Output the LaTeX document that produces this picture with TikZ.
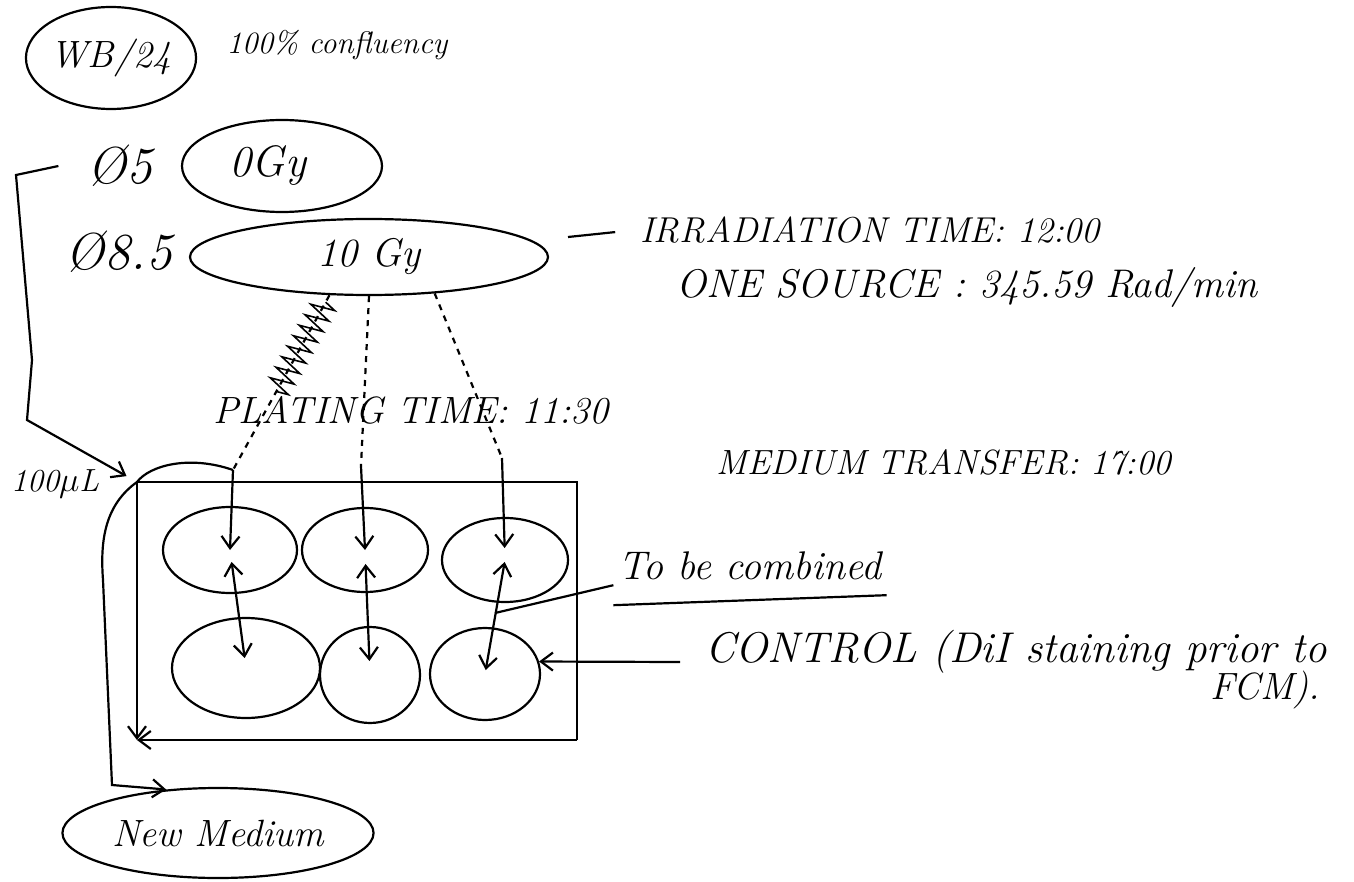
\documentclass[tikz,border=0pt]{standalone}
\usepackage{fontspec}
\usetikzlibrary{shapes.geometric, arrows.meta, decorations.pathmorphing}

\begin{document}
\begin{tikzpicture}[x=0.5pt, y=-0.5pt, line width=1.1pt,
    >={Straight Barb[length=6pt,width=9pt]},
    note/.style={font=\itshape\fontsize{19}{22}\selectfont, inner sep=2pt},
    big/.style={font=\itshape\fontsize{26}{30}\selectfont, inner sep=2pt},
    blob/.style={ellipse, draw, inner sep=0pt},
    well/.style={ellipse, draw, inner sep=0pt}]
    \useasboundingbox (0,0) rectangle (1354,882);

    % --- header ---
    \node[blob, font=\itshape\fontsize{19}{22}\selectfont, minimum width=81pt, minimum height=51pt] (wb) at (111,58) {WB/24};
    \node[note, font=\itshape\fontsize{15.5}{18}\selectfont] (conf) at (337,45) {100\% confluency};

    % --- dishes ---
    \node[big] (d5) at (120,166) {Ø5};
    \node[blob, font=\itshape\fontsize{22}{26}\selectfont, minimum width=100pt, minimum height=46pt] (zero) at (282,166) {0Gy\hspace*{14pt}};
    \node[big] (d85) at (119,252) {Ø8.5};
    \node[blob, font=\itshape\fontsize{20}{24}\selectfont, minimum width=179pt, minimum height=38pt] (ten) at (369,257) {10 Gy};

    % --- irradiation ---
    \node[note, font=\itshape\fontsize{18}{21}\selectfont] (irr) at (870,230) {IRRADIATION TIME: 12:00};
    \node[note, font=\itshape\fontsize{20}{23}\selectfont] (src) at (967,288) {ONE SOURCE : 345.59 Rad/min};
    \coordinate (irrend) at (568,237);
    \draw[shorten <=10pt] (irr.west) -- (irrend);

    % --- times ---
    \node[note] (plt) at (411,410) {PLATING TIME: 11:30};
    \node[note, font=\itshape\fontsize{17.5}{20}\selectfont] (med) at (944,462) {MEDIUM TRANSFER: 17:00};

    % --- plate and wells ---
    \node[minimum width=220pt, minimum height=129pt, inner sep=0pt, outer sep=0pt] (plate) at (357,611) {};
    \draw (plate.north west) -- (plate.north east) -- (plate.south east);
    \draw[->] (plate.north west) -- (plate.south west);
    \draw[->] (plate.south east) -- (plate.south west);

    \node[well, minimum width=67pt, minimum height=43pt] (w11) at (230,550) {};
    \node[well, minimum width=63pt, minimum height=42pt] (w12) at (365,550) {};
    \node[well, minimum width=63pt, minimum height=42pt] (w13) at (505,560) {};
    \node[well, minimum width=74pt, minimum height=50pt] (w21) at (246,668) {};
    \node[well, minimum width=50pt, minimum height=48pt] (w22) at (370,675) {};
    \node[well, minimum width=55pt, minimum height=46pt] (w23) at (485,674) {};

    % --- plating arrows ---
    \coordinate (p1) at (233,470);
    \coordinate (p2) at (361,466);
    \coordinate (p3) at (502,458);
    \draw[dashed] (ten.224) -- (p1);
    \draw[line width=0.8pt, decorate, decoration={zigzag, segment length=6pt, amplitude=6pt,
        pre=moveto, pre length=4pt, post=moveto, post length=44pt}] (ten.224) -- (p1);
    \draw[dashed] (ten.270) -- (p2);
    \draw[dashed] (ten.331) -- (p3);
    \draw[->] (p1) -- (w11.center);
    \draw[->] (p2) -- (w12.center);
    \draw[->, shorten >=6pt] (p3) -- (w13.center);

    % --- combining wells ---
    \draw[<->, shorten <=6pt, shorten >=5pt] (w11.center) -- (w21.center);
    \draw[<->, shorten <=7pt, shorten >=7pt] (w12.center) -- (w22.center);
    \draw[<->, shorten <=1pt, shorten >=2pt] (w13.center) -- (w23.center);

    \node[note, font=\itshape\fontsize{20}{23}\selectfont] (comb) at (750,566) {To be combined};
    \coordinate (tb) at (495,613);
    \draw (comb.south west) -- (tb);
    \draw ([yshift=-10pt]comb.south west) -- ([yshift=-5pt]comb.south east);

    % --- control ---
    \node[note, font=\itshape\fontsize{21.5}{24}\selectfont, anchor=base west] (ctrl) at (700,662) {CONTROL (DiI staining prior to};
    \node[note] (fcm) at (1265,690) {FCM).};
    \draw[->] ([xshift=-10pt]ctrl.base west) -- (w23.13);

    % --- medium in and out ---
    \node[note, font=\itshape\fontsize{16}{19}\selectfont] (vol) at (55,484) {100$\mu$L};
    \draw[->, shorten >=6pt] ([xshift=-12pt]d5.west) -- (16,175) -- (32,360) -- (27,420) -- (plate.north west);

    \node[blob, note, minimum width=120pt, minimum height=45pt] (new) at (218,833) {New Medium};
    \draw[->] (p1) .. controls (190,455) and (150,465) .. (plate.north west)
        .. controls (105,505) and (100,540) .. (103,580) -- (112,785) -- (new.140);
\end{tikzpicture}
\end{document}
